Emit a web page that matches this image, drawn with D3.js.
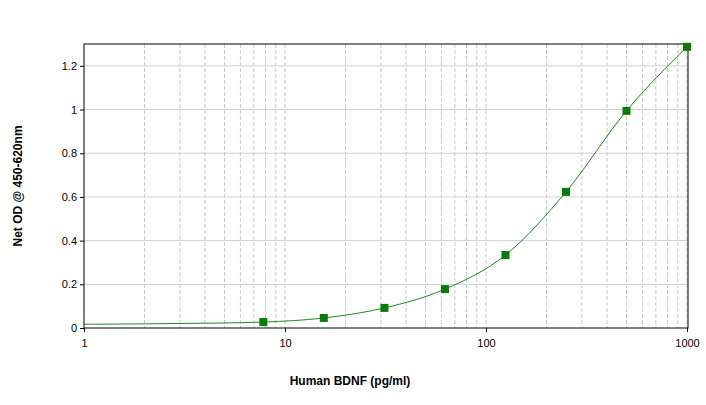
<!DOCTYPE html>
<html><head><meta charset="utf-8">
<script src="https://cdn.jsdelivr.net/npm/d3@7"></script>
<style>body{margin:0;background:#fff}text{font-family:Arial,"Liberation Sans",sans-serif}</style>
</head><body><svg id="c" width="706" height="405"></svg>
<script>
const concentrations=[7.8,15.6,31.25,62.5,125,250,500,1000];
const od=[0.027,0.046,0.092,0.178,0.334,0.623,0.994,1.287];
const curveX=[1,2,4,7.8,15.6,31.25,62.5,125,250,500,1000];
const curveY=[0.017,0.019,0.022,0.027,0.046,0.092,0.178,0.334,0.623,0.994,1.287];
const xTicks=[1,10,100,1000];
const yTicks=[0,0.2,0.4,0.6,0.8,1,1.2];

const svg=d3.select("#c");
const x=d3.scaleLog().domain([1,1000]).range([84,687]);
const y=d3.scaleLinear().domain([0,1.3]).range([328,44]);
// vertical minor grid
const minors=[];
for(let d=1;d<1000;d*=10)for(let k=2;k<=10;k++)minors.push(d*k);
svg.append("g").selectAll("line").data(minors).join("line")
 .attr("x1",d=>x(d)).attr("x2",d=>x(d)).attr("y1",44).attr("y2",328)
 .attr("stroke","#c8c8c8").attr("stroke-dasharray","4,2");
svg.append("g").selectAll("line").data(yTicks.slice(1)).join("line")
 .attr("x1",84).attr("x2",688).attr("y1",d=>y(d)).attr("y2",d=>y(d))
 .attr("stroke","#d0d0d0");
svg.append("rect").attr("x",84).attr("y",44).attr("width",604).attr("height",284)
 .attr("fill","none").attr("stroke","#000");
const xa=svg.append("g").attr("transform","translate(0,328)")
 .call(d3.axisBottom(x).tickValues(xTicks).tickFormat(d3.format("d")).tickSize(4));
const ya=svg.append("g").attr("transform","translate(84,0)")
 .call(d3.axisLeft(y).tickValues(yTicks).tickFormat(d=>d).tickSize(4));
[xa,ya].forEach(a=>{a.select(".domain").remove();a.selectAll("text").attr("font-size",11).attr("fill","#000");});
xa.selectAll("text").attr("dy","1.1em");
svg.append("path").datum(curveX.map((c,i)=>[c,curveY[i]]))
 .attr("d",d3.line().x(d=>x(d[0])).y(d=>y(d[1])).curve(d3.curveMonotoneX))
 .attr("fill","none").attr("stroke","#1f8a1f").attr("stroke-width",1);
svg.append("g").selectAll("rect").data(concentrations).join("rect")
 .attr("x",(d)=>x(d)-4).attr("y",(d,i)=>y(od[i])-4).attr("width",8).attr("height",8)
 .attr("fill","#0a7a0a");
svg.append("text").attr("x",350).attr("y",385).attr("text-anchor","middle")
 .attr("font-size",12).attr("font-weight","bold").text("Human BDNF (pg/ml)");
svg.append("text").attr("transform","translate(22,186) rotate(-90)").attr("text-anchor","middle")
 .attr("font-size",12).attr("font-weight","bold").text("Net OD @ 450-620nm");
</script></body></html>
